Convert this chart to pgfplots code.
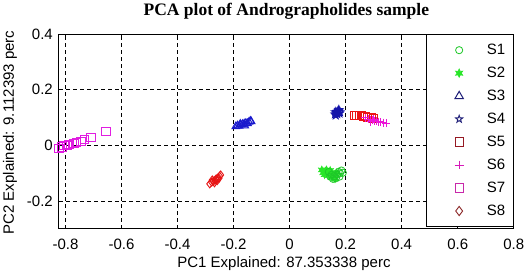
\documentclass[border=0pt]{standalone}
\usepackage{fontspec}
\setmainfont{Liberation Sans}
\newfontfamily\titlefont{Liberation Serif}
\usepackage{pgfplots}
\pgfplotsset{compat=1.18}

\definecolor{cS1}{RGB}{30,200,40}
\definecolor{cS2}{RGB}{40,230,40}
\definecolor{cS3}{RGB}{25,25,205}
\definecolor{cS3l}{RGB}{30,30,120}
\definecolor{cS4}{RGB}{20,20,170}
\definecolor{cS4l}{RGB}{30,30,120}
\definecolor{cS5}{RGB}{235,20,20}
\definecolor{cS5l}{RGB}{150,25,35}
\definecolor{cS6}{RGB}{235,20,215}
\definecolor{cS6l}{RGB}{215,25,185}
\definecolor{cS7}{RGB}{225,30,225}
\definecolor{cS7l}{RGB}{200,40,170}
\definecolor{cS8}{RGB}{230,20,20}
\definecolor{cS8l}{RGB}{140,40,40}

\pgfdeclareplotmark{pentagram}{%
  \pgfpathmoveto{\pgfpointpolar{90}{\pgfplotmarksize}}%
  \pgfpathlineto{\pgfpointpolar{126}{0.4\pgfplotmarksize}}%
  \pgfpathlineto{\pgfpointpolar{162}{\pgfplotmarksize}}%
  \pgfpathlineto{\pgfpointpolar{198}{0.4\pgfplotmarksize}}%
  \pgfpathlineto{\pgfpointpolar{234}{\pgfplotmarksize}}%
  \pgfpathlineto{\pgfpointpolar{270}{0.4\pgfplotmarksize}}%
  \pgfpathlineto{\pgfpointpolar{306}{\pgfplotmarksize}}%
  \pgfpathlineto{\pgfpointpolar{342}{0.4\pgfplotmarksize}}%
  \pgfpathlineto{\pgfpointpolar{18}{\pgfplotmarksize}}%
  \pgfpathlineto{\pgfpointpolar{54}{0.4\pgfplotmarksize}}%
  \pgfpathclose\pgfusepathqstroke}
\pgfdeclareplotmark{hexagram*}{%
  \pgfpathmoveto{\pgfpointpolar{90}{\pgfplotmarksize}}%
  \pgfpathlineto{\pgfpointpolar{120}{0.5\pgfplotmarksize}}%
  \pgfpathlineto{\pgfpointpolar{150}{\pgfplotmarksize}}%
  \pgfpathlineto{\pgfpointpolar{180}{0.5\pgfplotmarksize}}%
  \pgfpathlineto{\pgfpointpolar{210}{\pgfplotmarksize}}%
  \pgfpathlineto{\pgfpointpolar{240}{0.5\pgfplotmarksize}}%
  \pgfpathlineto{\pgfpointpolar{270}{\pgfplotmarksize}}%
  \pgfpathlineto{\pgfpointpolar{300}{0.5\pgfplotmarksize}}%
  \pgfpathlineto{\pgfpointpolar{330}{\pgfplotmarksize}}%
  \pgfpathlineto{\pgfpointpolar{0}{0.5\pgfplotmarksize}}%
  \pgfpathlineto{\pgfpointpolar{30}{\pgfplotmarksize}}%
  \pgfpathlineto{\pgfpointpolar{60}{0.5\pgfplotmarksize}}%
  \pgfpathclose\pgfusepathqfillstroke}

\begin{document}
\begin{tikzpicture}
\path[use as bounding box] (-59pt,-46pt) rectangle (467pt,229pt);
\begin{axis}[
  at={(0pt,0pt)}, anchor=south west,
  scale only axis, width=454.7pt, height=195pt,
  xmin=-0.823, xmax=0.8, ymin=-0.3, ymax=0.4,
  clip=false,
  xtick={-0.8,-0.6,-0.4,-0.2,0,0.2,0.4,0.6,0.8},
  xticklabels={-0.8,-0.6,-0.4,-0.2,0,0.2,0.4,0.6,0.8},
  ytick={-0.2,0,0.2,0.4},
  yticklabels={-0.2,0,0.2,0.4},
  tick align=inside, major tick length=3pt,
  tick style={black, line width=0.8pt},
  grid=major,
  major grid style={black, line width=0.9pt, dash pattern=on 3.5pt off 3.5pt},
  axis line style={black, line width=1pt},
  ticklabel style={font=\fontsize{15}{15}\selectfont},
  xticklabel style={anchor=base, inner sep=0pt, yshift=-20pt},
  yticklabel style={anchor=east, inner sep=0pt, xshift=-6pt},
  every axis title shift=0pt,
  title={PCA plot of Andrographolides sample},
  title style={at={(axis description cs:0.5,1.0974)}, anchor=base, inner sep=0pt, yshift=0pt,
    font=\titlefont\bfseries\fontsize{17.5}{17.5}\selectfont},
  xlabel={PC1 Explained: 87.353338 perc},
  xlabel style={at={(axis description cs:0.4947,-0.2)}, anchor=base, inner sep=0pt,
    font=\fontsize{15}{15}\selectfont},
  ylabel={PC2 Explained: 9.112393 perc},
  ylabel style={at={(axis description cs:-0.099,0.495)}, anchor=base, inner sep=0pt, rotate=0,
    font=\fontsize{15}{15}\selectfont},
  legend style={at={(axis description cs:1,1)}, anchor=north east,
    draw=black, line width=1pt, fill=white,
    inner xsep=8pt, inner ysep=9.7pt, row sep=11pt, column sep=23pt,
    font=\fontsize{15}{15}\selectfont, nodes={inner sep=0pt}},
  legend cell align=left,
  legend image code/.code={\path[draw=none,fill=none] (-24.3pt,0pt) -- (4.7pt,0pt); \draw[#1,only marks] plot coordinates {(0pt,0pt)};},
]
% legend images
\addlegendimage{only marks, mark=o, mark size=3.6pt, color=cS1, line width=0.8pt}
\addlegendentry{S1}
\addlegendimage{only marks, mark=hexagram*, mark size=4.2pt, color=cS2, fill=cS2, line width=0.6pt}
\addlegendentry{S2}
\addlegendimage{only marks, mark=triangle, mark size=4.8pt, color=cS3l, line width=1pt}
\addlegendentry{S3}
\addlegendimage{only marks, mark=pentagram, mark size=3.8pt, color=cS4l, line width=0.9pt}
\addlegendentry{S4}
\addlegendimage{only marks, mark=square, mark size=4.2pt, color=cS5l, line width=0.9pt}
\addlegendentry{S5}
\addlegendimage{only marks, mark=+, mark size=4.4pt, color=cS6l, line width=1pt}
\addlegendentry{S6}
\addlegendimage{only marks, mark=square, mark size=4.2pt, color=cS7l, line width=0.9pt}
\addlegendentry{S7}
\addlegendimage{only marks, mark=diamond, mark size=4.6pt, color=cS8l, line width=0.9pt}
\addlegendentry{S8}

% S7 magenta squares
\addplot[forget plot, only marks, mark=square, mark size=4.2pt, color=cS7, line width=0.8pt] coordinates {
(-0.823,-0.011) (-0.812,-0.006) (-0.805,0.000) (-0.795,0.001) (-0.788,0.004)
(-0.770,0.007) (-0.760,0.010) (-0.745,0.014) (-0.732,0.021) (-0.709,0.029) (-0.655,0.050)
};
% S3 blue triangles
\addplot[forget plot, only marks, mark=triangle, mark size=4.3pt, color=cS3, line width=1pt] coordinates {
(-0.192,0.068) (-0.186,0.071) (-0.180,0.070) (-0.174,0.074) (-0.168,0.076)
(-0.162,0.078) (-0.156,0.080) (-0.150,0.079) (-0.145,0.084) (-0.140,0.088)
(-0.137,0.086) (-0.160,0.071) (-0.176,0.077)
};
% S8 red diamonds
\addplot[forget plot, only marks, mark=diamond, mark size=4pt, color=cS8, line width=0.9pt] coordinates {
(-0.285,-0.138) (-0.278,-0.132) (-0.272,-0.128) (-0.266,-0.125) (-0.262,-0.120)
(-0.256,-0.117) (-0.250,-0.110) (-0.246,-0.106) (-0.268,-0.134) (-0.258,-0.126)
(-0.276,-0.124) (-0.252,-0.118)
};
% S2 green filled stars
\addplot[forget plot, only marks, mark=hexagram*, mark size=4pt, color=cS2, fill=cS2, line width=0.5pt] coordinates {
(0.115,-0.088) (0.120,-0.098) (0.128,-0.092) (0.135,-0.100) (0.140,-0.108)
(0.148,-0.098) (0.152,-0.115) (0.160,-0.105) (0.132,-0.088) (0.125,-0.105)
(0.162,-0.120) (0.168,-0.098) (0.145,-0.090)
};
% S1 green circles
\addplot[forget plot, only marks, mark=o, mark size=3.6pt, color=cS1, line width=0.8pt] coordinates {
(0.140,-0.095) (0.150,-0.105) (0.160,-0.110) (0.170,-0.105) (0.175,-0.095)
(0.180,-0.100) (0.185,-0.090) (0.165,-0.118) (0.155,-0.120) (0.190,-0.098)
(0.178,-0.112) (0.145,-0.112)
};
% S4 blue stars
\addplot[forget plot, only marks, mark=pentagram, mark size=4pt, color=cS4, line width=1pt] coordinates {
(0.162,0.112) (0.168,0.118) (0.172,0.122) (0.178,0.115) (0.175,0.125)
(0.165,0.108) (0.180,0.120) (0.170,0.113) (0.176,0.128) (0.163,0.120)
};
% S5 red squares
\addplot[forget plot, only marks, mark=square, mark size=4pt, color=cS5, line width=0.9pt] coordinates {
(0.232,0.107) (0.240,0.108) (0.248,0.106) (0.255,0.108) (0.262,0.104)
(0.270,0.105) (0.278,0.102) (0.285,0.100) (0.293,0.101) (0.300,0.098)
};
% S6 magenta plus
\addplot[forget plot, only marks, mark=+, mark size=4pt, color=cS6, line width=0.9pt] coordinates {
(0.270,0.100) (0.280,0.095) (0.288,0.092) (0.295,0.090) (0.302,0.088)
(0.310,0.086) (0.318,0.085) (0.325,0.083) (0.335,0.082) (0.345,0.080)
(0.300,0.095) (0.290,0.085)
};
\end{axis}
\end{tikzpicture}
\end{document}
